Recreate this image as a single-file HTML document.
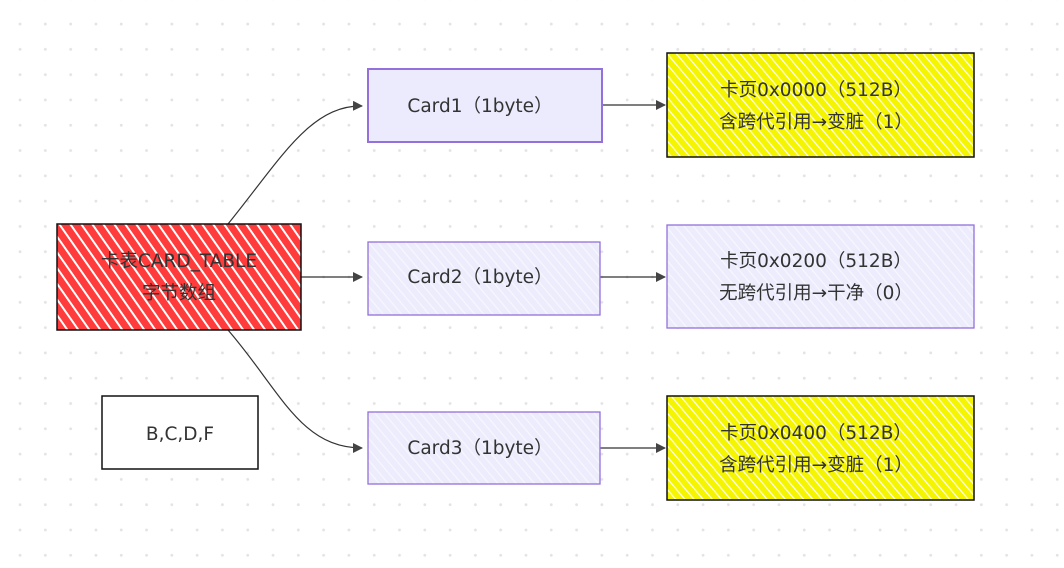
<!DOCTYPE html>
<html><head><meta charset="utf-8"><style>
body{margin:0;width:1064px;height:568px;overflow:hidden;background:#fff;
background-image:radial-gradient(circle,#e3e3e3 1.3px,transparent 1.6px);background-size:25.3px 25.3px;background-position:58px 62px;}
</style></head><body>
<svg width="1064" height="568" viewBox="0 0 1064 568" style="position:absolute;left:0;top:0" font-family="'DejaVu Sans','Noto Sans CJK SC',sans-serif" font-size="18.5" fill="#333">
<defs>
<pattern id="red" patternUnits="userSpaceOnUse" width="9" height="9" patternTransform="rotate(-35)"><rect width="9" height="9" fill="#ff3b3b"/><rect width="2" height="9" fill="#fff"/></pattern>
<pattern id="yel" patternUnits="userSpaceOnUse" width="7" height="7" patternTransform="rotate(-40)"><rect width="7" height="7" fill="#f5f500"/><rect width="1.2" height="7" fill="#fff"/></pattern>
<pattern id="pur" patternUnits="userSpaceOnUse" width="7" height="7" patternTransform="rotate(-40)"><rect width="7" height="7" fill="#ececfd"/><rect width="1.2" height="7" fill="#f7f7ff"/></pattern>
<marker id="a" markerWidth="10" markerHeight="10" refX="9" refY="5" orient="auto" markerUnits="userSpaceOnUse"><path d="M0,0 L10,5 L0,10 Z" fill="#444"/></marker>
</defs>
<g stroke="#333" stroke-width="1.2" fill="none">
<path d="M228,224 C280,160 310,105 362,106" marker-end="url(#a)"/>
<path d="M301,277 L362,277" marker-end="url(#a)"/>
<path d="M228,330 C280,390 300,448 362,448" marker-end="url(#a)"/>
<path d="M602,105 L665,105" marker-end="url(#a)"/>
<path d="M600,277 L665,277" marker-end="url(#a)"/>
<path d="M600,448 L665,448" marker-end="url(#a)"/>
</g>
<rect x="57" y="224" width="244" height="106" fill="url(#red)" stroke="#111" stroke-width="1.5"/>
<rect x="368" y="69" width="234" height="73" fill="#ebebfd" stroke="#9370db" stroke-width="2"/>
<rect x="368" y="242" width="232" height="73" fill="url(#pur)" stroke="#9370db" stroke-width="1.3"/>
<rect x="368" y="412" width="232" height="72" fill="url(#pur)" stroke="#9370db" stroke-width="1.3"/>
<rect x="667" y="53" width="307" height="104" fill="url(#yel)" stroke="#111" stroke-width="1.5"/>
<rect x="667" y="225" width="307" height="103" fill="url(#pur)" stroke="#9370db" stroke-width="1.3"/>
<rect x="667" y="396" width="307" height="104" fill="url(#yel)" stroke="#111" stroke-width="1.5"/>
<rect x="102" y="396" width="156" height="73" fill="#fff" stroke="#111" stroke-width="1.5"/>
<g text-anchor="middle">
<text x="179" y="267">卡表CARD_TABLE</text><text x="179" y="299">字节数组</text>
<text x="480" y="112">Card1（1byte）</text>
<text x="480" y="283">Card2（1byte）</text>
<text x="480" y="454">Card3（1byte）</text>
<text x="816" y="96">卡页0x0000（512B）</text><text x="816" y="128">含跨代引用→变脏（1）</text>
<text x="816" y="267">卡页0x0200（512B）</text><text x="816" y="299">无跨代引用→干净（0）</text>
<text x="816" y="439">卡页0x0400（512B）</text><text x="816" y="471">含跨代引用→变脏（1）</text>
<text x="180" y="440">B,C,D,F</text>
</g>
</svg>
</body></html>
